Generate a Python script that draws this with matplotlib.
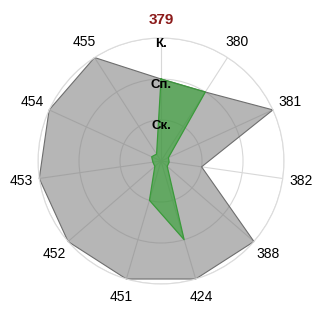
import numpy as np
import matplotlib
matplotlib.use("Agg")
import matplotlib.pyplot as plt

# categories clockwise from the top
categories = ['379', '380', '381', '382', '388', '424', '451', '452', '453', '454', '455']
levels = [1, 2, 3]
level_labels = ['Ск.', 'Сп.', 'К.']

grey_values = [2.0, 2.0, 3.0, 1.0, 3.0, 3.0, 3.0, 3.0, 3.0, 3.0, 3.0]
green_values = [2.0, 2.0, 0.2, 0.2, 0.2, 2.0, 1.0, 0.2, 0.2, 0.25, 0.2]

plt.rcParams['font.family'] = ['Liberation Sans', 'DejaVu Sans']

n = len(categories)
angles = np.arange(n) * 2 * np.pi / n
closed = np.append(angles, angles[0])


def close(vals):
    return np.append(vals, vals[0])


fig = plt.figure(figsize=(3.2, 3.2), dpi=100)
ax = fig.add_axes([0.1188, 0.1125, 0.76875, 0.76875], projection='polar')
ax.set_theta_zero_location('N')
ax.set_theta_direction(-1)
ax.set_ylim(0, 3)
ax.set_axisbelow(True)

# grey series first, green on top
ax.fill(closed, close(grey_values), facecolor='#7a7a7a', alpha=0.55,
        edgecolor='none', clip_on=False)
ax.plot(closed, close(grey_values), color='#6e6e6e', lw=0.8, clip_on=False)
ax.fill(closed, close(green_values), facecolor='#2ca02c', alpha=0.6,
        edgecolor='none', clip_on=False)
ax.plot(closed, close(green_values), color='#3a9a3a', lw=0.9, clip_on=False)

ax.set_xticks(angles)
ax.set_xticklabels([])
ax.set_yticks(levels)
ax.set_yticklabels([])
ax.grid(True, color='#d8d8d8', lw=0.8)
ax.spines['polar'].set_color('#dcdcdc')
ax.spines['polar'].set_linewidth(0.8)

# category labels outside the ring
for a, cat in zip(angles, categories):
    if cat == '379':
        ax.text(a, 3.45, cat, ha='center', va='center', fontsize=11,
                fontweight='bold', color='#8b1a1a', clip_on=False)
    else:
        ax.text(a, 3.45, cat, ha='center', va='center', fontsize=10,
                color='black', clip_on=False)

# level names on the top spoke
for lv, lab in zip(levels, level_labels):
    ax.text(0, lv, lab, ha='center', va='top', fontsize=9.5,
            fontweight='bold', color='black')

fig.savefig('out.png', dpi=100)
